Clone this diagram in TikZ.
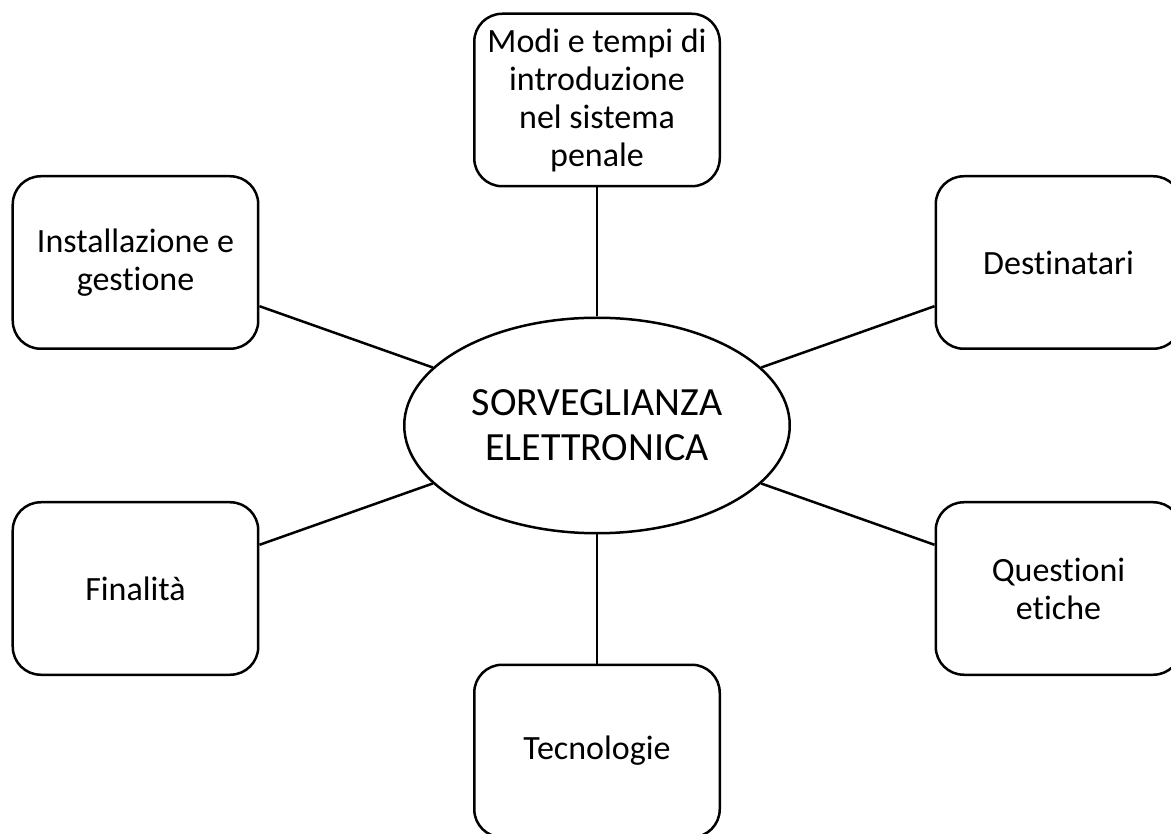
\documentclass[tikz,border=0pt]{standalone}
\usepackage{fontspec}
\setmainfont{Carlito}[Ligatures={NoCommon,NoContextual}]
\usetikzlibrary{
  positioning,
  shapes.geometric
}

\begin{document}
\begin{tikzpicture}[
  font=\fontsize{17}{19}\selectfont,
  topic/.style={
    draw,
    line width=1.25pt,
    minimum width=122.75pt,
    minimum height=86.25pt,
    inner sep=0pt,
    align=center,
    rounded corners=14pt
  },
  core/.style={
    draw,
    ellipse,
    line width=1.25pt,
    minimum width=192.75pt,
    minimum height=107.75pt,
    inner sep=0pt,
    align=center,
    font=\fontsize{20}{22.5}\selectfont
  },
  link/.style={line width=1.25pt}
]
\useasboundingbox (-298.5pt,-204.25pt) rectangle (287pt,212.75pt);

% Centre
\node[core] (sorv) at (0,0) {SORVEGLIANZA\\ELETTRONICA};

% Topics
\node[topic] (modi) at (0,162.75pt) {Modi e tempi di\\introduzione\\nel sistema\\penale};
\node[topic] (inst) at (-230.75pt,81.5pt) {Installazione e\\gestione};
\node[topic] (dest) at (230.75pt,81.5pt) {Destinatari};
\node[topic] (fina) at (-230.75pt,-81.5pt) {Finalità};
\node[topic] (etic) at (230.75pt,-81.5pt) {Questioni\\etiche};
\node[topic] (tecn) at (0,-162.75pt) {Tecnologie};

% Links
\draw[link] (modi) -- (sorv);
\draw[link] (inst) -- (sorv);
\draw[link] (dest) -- (sorv);
\draw[link] (fina) -- (sorv);
\draw[link] (etic) -- (sorv);
\draw[link] (tecn) -- (sorv);

\end{tikzpicture}
\end{document}
